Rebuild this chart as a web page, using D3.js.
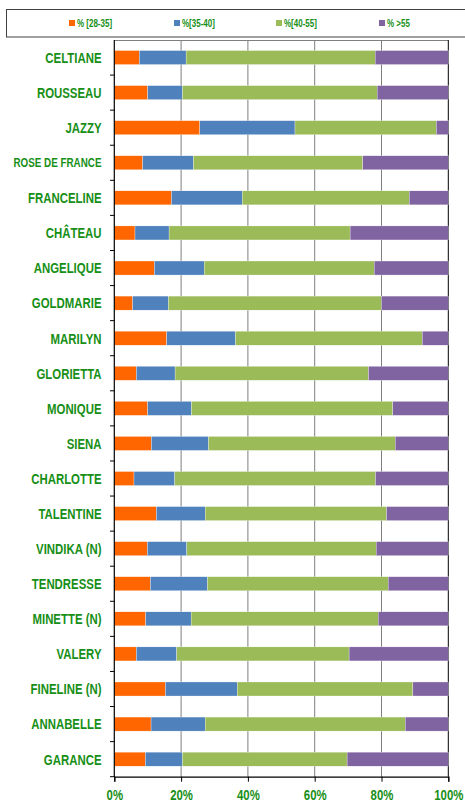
<!DOCTYPE html>
<html>
<head>
<meta charset="utf-8">
<script src="https://cdn.jsdelivr.net/npm/d3@7"></script>
<style>
  body { margin: 0; background: #fff; }
  svg { display: block; font-family: "Liberation Sans", Arial, sans-serif; }
</style>
</head>
<body>
<svg></svg>
<script>
const categories = ['CELTIANE','ROUSSEAU','JAZZY','ROSE DE FRANCE','FRANCELINE','CHÂTEAU',
  'ANGELIQUE','GOLDMARIE','MARILYN','GLORIETTA','MONIQUE','SIENA','CHARLOTTE','TALENTINE',
  'VINDIKA (N)','TENDRESSE','MINETTE (N)','VALERY','FINELINE (N)','ANNABELLE','GARANCE'];

const s28_35 = [7.5,10.0,25.6,8.5,17.1,6.2,12.0,5.5,15.7,6.6,10.0,11.1,5.9,12.6,9.9,10.8,9.4,6.6,15.3,11.0,9.3];
const s35_40 = [14.0,10.4,28.5,15.2,21.2,10.2,14.9,10.7,20.6,11.6,13.1,17.1,12.2,14.6,11.8,17.1,13.6,12.1,21.5,16.2,11.1];
const s40_55 = [56.6,58.3,42.3,50.7,50.0,54.2,50.9,63.8,55.9,57.9,60.3,55.9,60.1,54.3,56.7,54.1,56.0,51.6,52.6,59.9,49.3];
const s55    = [21.9,21.3,3.6,25.6,11.7,29.4,22.2,20.0,7.8,23.9,16.6,15.9,21.8,18.5,21.6,18.0,21.0,29.7,10.6,12.9,30.3];

const seriesNames = ['% [28-35]','%[35-40]','%[40-55]','% >55'];
const colors = ['#FF6600','#4F81BD','#9BBB59','#8064A2'];
const xTicks = [0,20,40,60,80,100];

const W = 465, H = 803;
const green = '#178F17';
const stretch = 1.3;

const svg = d3.select('svg').attr('width', W).attr('height', H);

const rows = categories.map((c, i) => ({cat: c, a: s28_35[i], b: s35_40[i], c: s40_55[i], d: s55[i]}));
const keys = ['a','b','c','d'];
const stack = d3.stack().keys(keys).offset(d3.stackOffsetExpand)(rows);

const x = d3.scaleLinear().domain([0, 1]).range([114.3, 448.3]);
const y = d3.scaleBand().domain(categories).range([40, 776.7]).paddingInner(0.6).paddingOuter(0.3);

// legend box
svg.append('rect')
  .attr('x', 6.5).attr('y', 9.5).attr('width', 470).attr('height', 27.5)
  .attr('fill', '#fff').attr('stroke', '#404040').attr('stroke-width', 1);

const legX = [69, 174, 276, 379];
const leg = svg.selectAll('g.leg').data(seriesNames).enter().append('g')
  .attr('class', 'leg')
  .attr('transform', (d, i) => 'translate(' + legX[i] + ',23)');
leg.append('rect').attr('x', 0).attr('y', -3).attr('width', 6).attr('height', 6)
  .attr('fill', (d, i) => colors[i]);
leg.append('text')
  .attr('transform', 'translate(8,0) scale(1,' + stretch + ')')
  .attr('dy', '0.36em')
  .attr('font-size', 8).attr('font-weight', 'bold').attr('fill', green)
  .text(d => d);

// grid lines
svg.selectAll('line.grid').data([0.2, 0.4, 0.6, 0.8]).enter().append('line')
  .attr('x1', d => x(d)).attr('x2', d => x(d))
  .attr('y1', 40).attr('y2', 776.7)
  .attr('stroke', '#7f7f7f').attr('stroke-width', 1);
svg.append('line').attr('x1', x(0)).attr('x2', x(1)).attr('y1', 40.5).attr('y2', 40.5)
  .attr('stroke', '#7f7f7f');
svg.append('line').attr('x1', x(1)).attr('x2', x(1)).attr('y1', 40).attr('y2', 776.7)
  .attr('stroke', '#000');

// bars
svg.selectAll('g.series').data(stack).enter().append('g')
  .attr('class', 'series')
  .attr('fill', (d, i) => colors[i])
  .selectAll('rect').data(d => d).enter().append('rect')
  .attr('x', d => x(d[0]))
  .attr('width', d => x(d[1]) - x(d[0]))
  .attr('y', d => y(d.data.cat))
  .attr('height', y.bandwidth())
  .attr('stroke', '#fff').attr('stroke-width', 0.3);

// left axis
svg.append('line').attr('x1', x(0)).attr('x2', x(0)).attr('y1', 40).attr('y2', 777)
  .attr('stroke', '#000').attr('stroke-width', 1.2);
const step = y.step();
svg.selectAll('line.ytick').data(d3.range(1, categories.length + 1)).enter().append('line')
  .attr('x1', 110).attr('x2', x(0))
  .attr('y1', i => 40 + i * step).attr('y2', i => 40 + i * step)
  .attr('stroke', '#000');

svg.selectAll('text.cat').data(categories).enter().append('text')
  .attr('class', 'cat')
  .attr('transform', d => 'translate(101.5,' + (y(d) + y.bandwidth() / 2) + ') scale(1,' + stretch + ')')
  .attr('dy', '0.36em')
  .attr('text-anchor', 'end')
  .attr('font-size', 11.4).attr('font-weight', 'bold').attr('fill', green)
  .text(d => d)
  .each(function () {
    const w = this.getComputedTextLength();
    if (w > 88) d3.select(this).attr('font-size', 11.4 * 88 / w);
  });

// bottom axis
const xAxis = d3.axisBottom(d3.scaleLinear().domain([0, 100]).range(x.range()))
  .tickValues(xTicks).tickSize(5).tickFormat(d => d + '%');
const ax = svg.append('g').attr('transform', 'translate(0,776.7)').call(xAxis);
ax.select('.domain').attr('stroke', '#000').attr('stroke-width', 1.2);
ax.selectAll('.tick line').attr('stroke', '#000');
ax.selectAll('.tick text')
  .attr('y', 0).attr('dy', 0)
  .attr('transform', 'translate(0,23) scale(1,' + stretch + ')')
  .attr('font-size', 11.4).attr('font-weight', 'bold').attr('fill', green)
  .attr('font-family', '"Liberation Sans", Arial, sans-serif');
</script>
</body>
</html>
